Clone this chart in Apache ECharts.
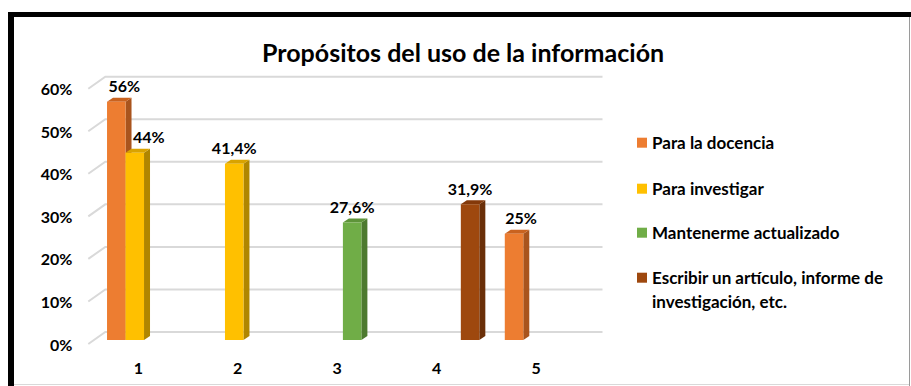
<!DOCTYPE html>
<html>
<head>
<meta charset="utf-8">
<script src="https://cdn.jsdelivr.net/npm/echarts@6/dist/echarts.min.js"></script>
<style>
  html, body { margin: 0; padding: 0; background: #ffffff; }
  #chart { width: 911px; height: 386px; }
</style>
</head>
<body>
<div id="chart"></div>
<script>
// Categories on the horizontal axis
const categories = ['1', '2', '3', '4', '5'];

// Series names (legend order)
const seriesNames = [
  'Para la docencia',
  'Para investigar',
  'Mantenerme actualizado',
  'Escribir un artículo, informe de investigación, etc.'
];
// Legend text as displayed; the long name continues on a second line
const legendLabels = [
  'Para la docencia',
  'Para investigar',
  'Mantenerme actualizado',
  'Escribir un artículo, informe de'
];
const legendContinuation = 'investigación, etc.';

// Values in percent, one per category (null = no bar)
const docencia    = [56, null, null, null, 25];
const investigar  = [44, 41.4, null, null, null];
const actualizado = [null, null, 27.6, null, null];
const escribir    = [null, null, null, 31.9, null];

// Value-axis ticks
const yTicks = [0, 10, 20, 30, 40, 50, 60];

const seriesValues = [docencia, investigar, actualizado, escribir];

// Face colours: front, side, top
const palette = [
  { front: '#ED7D31', side: '#A9541D', top: '#C9621F' },
  { front: '#FFC000', side: '#B08600', top: '#D9A300' },
  { front: '#70AD47', side: '#4D7A2F', top: '#5E9439' },
  { front: '#9E480E', side: '#6A2F08', top: '#84390A' }
];

// Depth of the pseudo-3D extrusion
const DEPTH_X = 6, DEPTH_Y = -4;
// Small horizontal nudges for a few value labels (series-category)
const labelNudge = { '0-0': 8, '1-0': 14, '0-4': 7 };

const FONT = 'Lato, "Open Sans", sans-serif';

function fmtPct(v) {
  return String(v).replace('.', ',') + '%';
}

function barRenderer(slot, colors) {
  return function (params, api) {
    const cat = api.value(0);
    const v = api.value(1);
    const base = api.coord([cat, 0]);
    const tip = api.coord([cat, v]);
    const band = api.size([1, 0])[0];
    const bw = band * 0.186;
    const cx = base[0] + (slot - 1.5) * bw;
    const x0 = cx - bw / 2, x1 = cx + bw / 2;
    const yT = tip[1], yB = base[1];
    const nudge = labelNudge[slot + '-' + cat] || 0;
    return {
      type: 'group',
      children: [
        {
          type: 'polygon',
          shape: { points: [[x1, yT], [x1 + DEPTH_X, yT + DEPTH_Y], [x1 + DEPTH_X, yB + DEPTH_Y], [x1, yB]] },
          style: { fill: colors.side }
        },
        {
          type: 'polygon',
          shape: { points: [[x0, yT], [x0 + DEPTH_X, yT + DEPTH_Y], [x1 + DEPTH_X, yT + DEPTH_Y], [x1, yT]] },
          style: { fill: colors.top }
        },
        {
          type: 'rect',
          shape: { x: x0, y: yT, width: bw, height: yB - yT },
          style: { fill: colors.front }
        },
        {
          type: 'text',
          x: cx + nudge,
          y: yT - 16,
          style: {
            text: fmtPct(v),
            align: 'center',
            verticalAlign: 'middle',
            fill: '#000000',
            font: 'bold 16px ' + FONT
          }
        }
      ]
    };
  };
}

// Back-wall gridlines with the diagonal floor stub on the left
function gridRenderer(params, api) {
  const cs = params.coordSys;
  const y = api.coord([0, api.value(1)])[1];
  return {
    type: 'polyline',
    shape: { points: [[cs.x - 6, y + 4], [cs.x + 11, y - 8], [cs.x + cs.width + 11, y - 8]] },
    style: { stroke: '#D9D9D9', lineWidth: 2, fill: null }
  };
}

const series = [{
  type: 'custom',
  name: 'grid',
  silent: true,
  z: 1,
  renderItem: gridRenderer,
  encode: { x: 0, y: 1 },
  data: yTicks.map(v => [0, v])
}];

seriesValues.forEach((arr, s) => {
  series.push({
    type: 'custom',
    name: seriesNames[s],
    z: 2 + s,
    itemStyle: { color: palette[s].front },
    renderItem: barRenderer(s, palette[s]),
    encode: { x: 0, y: 1 },
    data: arr.map((v, i) => [i, v]).filter(d => d[1] != null)
  });
});

// One legend block per entry, stacked with a fixed pitch
const legendTops = [132.7, 178.7, 222.7, 267.7];
const legendText = { fontFamily: FONT, fontWeight: 'bold', fontSize: 17, color: '#000', lineHeight: 20 };
const legends = seriesNames.map((name, i) => ({
  data: [name],
  orient: 'vertical',
  left: 637,
  top: legendTops[i],
  padding: 0,
  icon: 'rect',
  itemWidth: 10,
  itemHeight: 10,
  formatter: () => legendLabels[i],
  textStyle: legendText
}));

const option = {
  backgroundColor: '#ffffff',
  animation: false,
  title: {
    text: 'Propósitos del uso de la información',
    left: 262,
    top: 39.5,
    padding: 0,
    textStyle: { fontFamily: FONT, fontWeight: 'bold', fontSize: 25, color: '#000' }
  },
  legend: legends,
  grid: { left: 94.3, top: 84.7, width: 497.2, height: 255.3 },
  xAxis: {
    type: 'category',
    data: categories,
    axisLine: { show: false },
    axisTick: { show: false },
    axisLabel: {
      fontFamily: FONT, fontWeight: 'bold', fontSize: 16, color: '#000',
      margin: 19, padding: [0, 11.5, 0, 0]
    },
    splitLine: { show: false }
  },
  yAxis: {
    type: 'value',
    min: 0, max: 60, interval: 10,
    axisLine: { show: false },
    axisTick: { show: false },
    splitLine: { show: false },
    axisLabel: {
      formatter: '{value}%',
      fontFamily: FONT, fontWeight: 'bold', fontSize: 16, color: '#000',
      margin: 22, verticalAlign: 'top', lineHeight: 8
    }
  },
  graphic: [
    // second line of the last legend entry
    {
      type: 'text', x: 652, y: 301,
      style: { text: legendContinuation, fill: '#000', font: 'bold 17px ' + FONT, verticalAlign: 'middle', align: 'left' }
    },
    // frame
    { type: 'rect', shape: { x: 8, y: 12, width: 903, height: 5 }, style: { fill: '#000' }, z: 10 },
    { type: 'rect', shape: { x: 8, y: 12, width: 6, height: 374 }, style: { fill: '#000' }, z: 10 },
    { type: 'line', shape: { x1: 909.5, y1: 17, x2: 909.5, y2: 386 }, style: { stroke: '#9a9a9a', lineWidth: 1 }, z: 10 },
    { type: 'line', shape: { x1: 14, y1: 384.5, x2: 909, y2: 384.5 }, style: { stroke: '#d9d9d9', lineWidth: 1 }, z: 10 }
  ],
  series: series
};

const chart = echarts.init(document.getElementById('chart'), null, { renderer: 'svg' });
chart.setOption(option);
</script>
</body>
</html>
